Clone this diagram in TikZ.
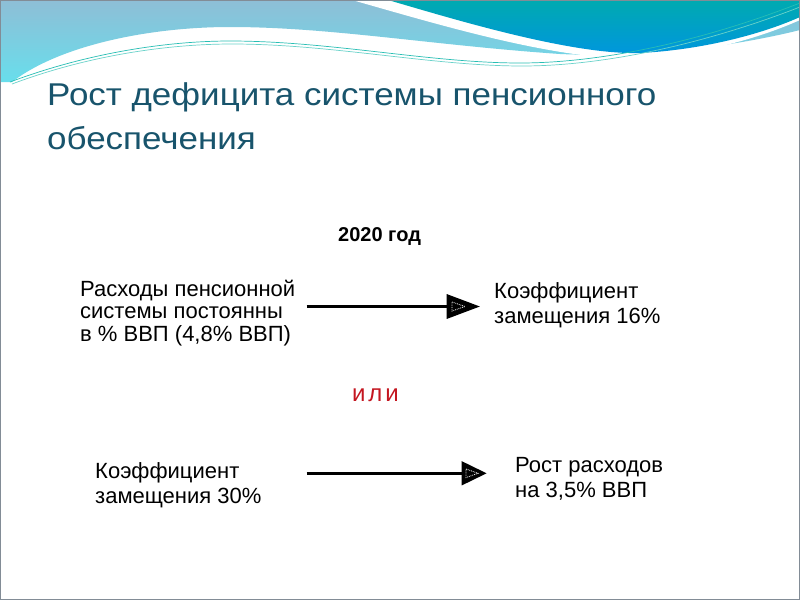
\documentclass[tikz,border=0pt]{standalone}
\usepackage{fontspec}
\setmainfont{Liberation Sans}
\newfontfamily\titlefont[FakeStretch=1.11]{Liberation Sans}
\newfontfamily\ilifont[LetterSpace=12]{Liberation Sans}
\usetikzlibrary{arrows.meta}
\definecolor{titlecol}{RGB}{24,84,108}
\definecolor{redtxt}{RGB}{196,22,32}
\definecolor{lightA}{RGB}{142,190,214}
\definecolor{lightB}{RGB}{104,222,236}
\definecolor{darkA}{RGB}{0,170,176}
\definecolor{darkB}{RGB}{0,150,222}
\definecolor{wline}{RGB}{40,190,180}
\definecolor{framecol}{RGB}{130,140,150}
\tikzset{
  body/.style={font=\fontsize{22}{25}\selectfont, inner sep=0pt, anchor=base west},
  bigarrow/.style={line width=3.3pt},
  innertri/.style={white, line width=0.8pt, densely dotted}
}
\begin{document}
\begin{tikzpicture}[x=1pt,y=-1pt]
\useasboundingbox (0,0) rectangle (800,600);
\fill[white] (0,0) rectangle (800,600);
% light band
\shade[top color=lightA, bottom color=lightB]
  (0,0) -- (800,0) -- (800,30)
  .. controls (740,45) and (650,58) .. (560,54)
  .. controls (430,45) and (330,27) .. (230,27)
  .. controls (150,27) and (60,45) .. (12,82)
  -- (0,82) -- cycle;
% white stripe
\fill[white] (352,0) .. controls (430,22) and (560,62) .. (640,58)
  .. controls (700,55) and (760,38) .. (800,20) -- (800,0) -- cycle;
% dark region
\shade[top color=darkA, bottom color=darkB]
  (388,0) .. controls (450,18) and (570,55) .. (640,53)
  .. controls (700,50) and (760,35) .. (800,17) -- (800,0) -- cycle;
% thin lines
\draw[wline, line width=0.7pt] (10,82) .. controls (90,52) and (170,41) .. (230,41)
  .. controls (330,41) and (430,63) .. (520,63)
  .. controls (600,63) and (700,42) .. (800,3);
\draw[wline!70, line width=0.7pt] (12,84) .. controls (92,54) and (172,44) .. (232,44)
  .. controls (332,44) and (432,66) .. (522,66)
  .. controls (602,66) and (702,45) .. (800,7);
% frame
\draw[framecol, line width=1pt] (0.5,0.5) rectangle (799.5,599.5);

% title
\node[font=\titlefont\fontsize{31.5}{44}\selectfont, text=titlecol, inner sep=0pt, anchor=base west]
  (title) at (47,105) {\begin{tabular}[t]{@{}l@{}}Рост дефицита системы пенсионного\\обеспечения\end{tabular}};

\node[font=\fontsize{20}{22}\selectfont\bfseries, inner sep=0pt, anchor=base west]
  (year) at (338,241.7) {2020 год};

\node[body, font=\fontsize{22}{22.2}\selectfont] (src1) at (80,296.7)
  {\begin{tabular}[t]{@{}l@{}}Расходы пенсионной\\системы постоянны\\в \% ВВП (4,8\% ВВП)\end{tabular}};
\node[body] (dst1) at (494,298.3)
  {\begin{tabular}[t]{@{}l@{}}Коэффициент\\замещения 16\%\end{tabular}};

\node[font=\ilifont\fontsize{24}{25}\selectfont, text=redtxt, inner sep=0pt, anchor=base west]
  (ili) at (352,401.7) {или};

\node[body] (src2) at (95,478.3)
  {\begin{tabular}[t]{@{}l@{}}Коэффициент\\замещения 30\%\end{tabular}};
\node[body] (dst2) at (515,472.5)
  {\begin{tabular}[t]{@{}l@{}}Рост расходов\\на 3,5\% ВВП\end{tabular}};

% arrows
\coordinate (a1s) at (306.7,306.5);
\coordinate (a1e) at (480,306.5);
\coordinate (a2s) at (306.7,473.3);
\coordinate (a2e) at (486.7,473.3);
\draw[bigarrow, -{Triangle[length=33.3pt,width=24pt]}] (a1s) -- (a1e);
\draw[bigarrow, -{Triangle[length=25pt,width=23.4pt]}] (a2s) -- (a2e);
\draw[innertri] (452,302) -- (465,306.5) -- (452,311) -- cycle;
\draw[innertri] (466,469) -- (478,473.3) -- (466,477.6) -- cycle;
\end{tikzpicture}
\end{document}
